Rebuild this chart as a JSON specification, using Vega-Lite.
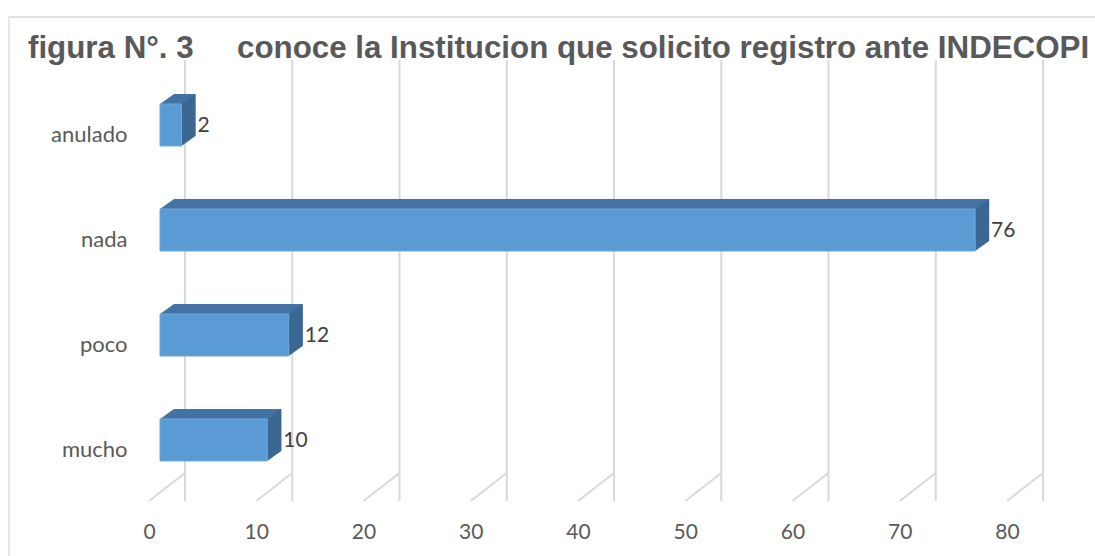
{
  "$schema": "https://vega.github.io/schema/vega-lite/v6.json",
  "width": 858,
  "height": 437,
  "autosize": {"type": "none"},
  "padding": {"left": 149, "top": 64, "right": 88, "bottom": 55},
  "background": "white",
  "title": {
    "text": "figura N°. 3\u00a0\u00a0\u00a0\u00a0 conoce la Institucion que solicito registro ante INDECOPI",
    "anchor": "start",
    "frame": "group",
    "dx": -121,
    "offset": 0,
    "dy": 73,
    "baseline": "alphabetic",
    "font": "Liberation Sans, Arial, sans-serif",
    "fontSize": 31.3,
    "fontWeight": "bold",
    "color": "#595959"
  },
  "datasets": {
    "bars": [
      {"cat": "anulado", "value": 2},
      {"cat": "nada", "value": 76},
      {"cat": "poco", "value": 12},
      {"cat": "mucho", "value": 10}
    ],
    "ticks": [
      {"value": 0}, {"value": 10}, {"value": 20}, {"value": 30}, {"value": 40},
      {"value": 50}, {"value": 60}, {"value": 70}, {"value": 80}
    ],
    "frame": [{"frame": "border"}]
  },
  "layer": [
    {
      "data": {"name": "frame"},
      "mark": {"type": "rect", "filled": false, "color": "#D9D9D9", "strokeWidth": 1.3, "xOffset": -140, "x2Offset": 100, "yOffset": -47, "y2Offset": 70},
      "encoding": {"x": {"value": 0}, "x2": {"value": "width"}, "y": {"value": 0}, "y2": {"value": "height"}}
    },
    {
      "data": {"name": "ticks"},
      "encoding": {
        "x": {"field": "value", "type": "quantitative", "scale": {"domain": [0, 80], "nice": false, "zero": true}, "axis": {"title": null, "values": [0, 10, 20, 30, 40, 50, 60, 70, 80]}}
      },
      "layer": [
        {"mark": {"type": "rule", "color": "#D9D9D9", "strokeWidth": 2, "xOffset": 36, "yOffset": -4, "y2Offset": -28}},
        {
          "mark": {"type": "rule", "color": "#D9D9D9", "strokeWidth": 2, "x2Offset": 36, "y2Offset": -28},
          "encoding": {"x2": {"field": "value"}, "y": {"value": "height"}, "y2": {"value": "height"}}
        }
      ]
    },
    {
      "data": {"name": "bars"},
      "encoding": {
        "x": {"field": "value", "type": "quantitative", "scale": {"domain": [0, 80], "nice": false, "zero": true}, "axis": {"title": null, "values": [0, 10, 20, 30, 40, 50, 60, 70, 80]}},
        "y": {"field": "cat", "type": "nominal", "sort": ["anulado", "nada", "poco", "mucho"], "scale": {"paddingInner": 0.6, "paddingOuter": 0.381}, "axis": {"title": null}}
      },
      "layer": [
        {"mark": {"type": "bar", "color": "#4472A4", "xOffset": 25, "x2Offset": 25, "yOffset": -10}},
        {
          "mark": {"type": "point", "shape": "M-1,0.714L1,0.714L1,-0.714Z", "size": 196, "filled": true, "opacity": 1, "strokeWidth": 0, "color": "#4472A4", "xOffset": 18, "yOffset": -26},
          "encoding": {"x": {"datum": 0, "type": "quantitative"}}
        },
        {
          "mark": {"type": "bar", "color": "#3B6793", "height": 32, "xOffset": 11, "x2Offset": 25, "yOffset": -5},
          "encoding": {"x2": {"field": "value"}}
        },
        {"mark": {"type": "point", "shape": "M-1,0.714L1,-0.714L1,0.714Z", "size": 196, "filled": true, "opacity": 1, "strokeWidth": 0, "color": "#3B6793", "xOffset": 18, "yOffset": -26}},
        {"mark": {"type": "point", "shape": "M-1,-0.714L1,-0.714L-1,0.714Z", "size": 196, "filled": true, "opacity": 1, "strokeWidth": 0, "color": "#3B6793", "xOffset": 18, "yOffset": 16}},
        {"mark": {"type": "bar", "color": "#5B9BD5", "stroke": "#6FA8DC", "strokeWidth": 1, "xOffset": 11, "x2Offset": 11}},
        {
          "mark": {"type": "text", "align": "left", "baseline": "middle", "dx": 27, "dy": 1, "font": "Lato", "fontSize": 21, "color": "#404040"},
          "encoding": {"text": {"field": "value", "type": "quantitative"}}
        }
      ]
    }
  ],
  "config": {
    "view": {"stroke": null},
    "axis": {"labelFont": "Lato", "labelFontSize": 21, "labelColor": "#595959", "domain": false, "ticks": false, "grid": false, "labelFlush": false},
    "axisX": {"labelPadding": 20},
    "axisY": {"labelPadding": 22, "labelOffset": 10, "labelFontSize": 22}
  }
}
